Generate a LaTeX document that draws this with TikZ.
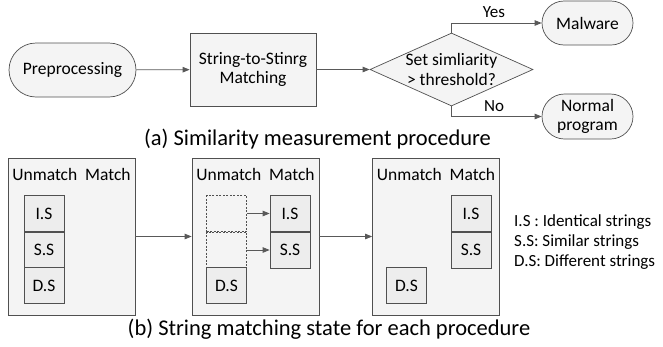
\documentclass[tikz,border=0pt]{standalone}
\usepackage{fontspec}
\setmainfont{Carlito}
\usetikzlibrary{arrows.meta,shapes.geometric,shapes.misc}
\definecolor{edge}{HTML}{505050}
\definecolor{wire}{HTML}{595959}
\definecolor{boxfill}{HTML}{F4F4F4}
\definecolor{cellfill}{HTML}{EDEDED}
\tikzset{
  body/.style={font=\fontsize{17.5}{19.5}\selectfont},
  base/.style={draw=edge, line width=0.7pt, inner sep=0pt, body, align=center},
  terminal/.style={base, rounded rectangle, fill=boxfill},
  process/.style={base, rectangle, fill=boxfill},
  decision/.style={base, diamond, fill=boxfill},
  stage/.style={base, rectangle, fill=boxfill, minimum width=127pt, minimum height=157pt},
  cell/.style={base, rectangle, fill=cellfill, minimum width=40pt, minimum height=36pt},
  ghost/.style={cell, dash pattern=on 2pt off 1.5pt, fill=boxfill},
  link/.style={draw=wire, line width=0.8pt, -{Triangle[length=7pt,width=5.5pt]}},
  caption/.style={font=\fontsize{22.5}{25}\selectfont, inner sep=0pt},
  tag/.style={font=\fontsize{17}{19}\selectfont, inner sep=0pt},
}
\begin{document}
\begin{tikzpicture}[x=1pt, y=-1pt]
\useasboundingbox (0,0) rectangle (663,346);

% (a) flow of the similarity measurement
\node[terminal, minimum width=127pt, minimum height=54pt] (pre) at (72.5,70) {Preprocessing};
\node[process, minimum width=126pt, minimum height=73pt] (smm) at (253,69.5) {String-to-Stinrg\\Matching};
\node[decision, minimum width=163pt, minimum height=73pt, aspect=2.23] (dec) at (451.5,69.5) {};
\node[body, align=center, inner sep=0pt] (dectxt) at (dec) {Set simliarity\\> threshold?};
\node[terminal, minimum width=91pt, minimum height=44pt] (mal) at (587.5,23) {Malware};
\node[terminal, minimum width=91pt, minimum height=45pt] (nor) at (587.5,116.5) {Normal\\program};

\draw[link] (pre) -- (smm);
\draw[link] (smm) -- (dec);
\draw[link] (dec.north) |- (mal.west);
\draw[link] (dec.south) |- (nor.west);
\node[tag] (yes) at (494,12) {Yes};
\node[tag] (no) at (494,106) {No};

\node[caption] (capa) at (317.5,139) {(a) Similarity measurement procedure};

% (b) matching states
\node[stage] (s1) at (71.5,236.5) {};
\node[stage] (s2) at (255.5,236.5) {};
\node[stage] (s3) at (436,236.5) {};
\foreach \s in {s1,s2,s3}
  \node[body, inner sep=0pt] (\s h) at ([yshift=-17pt]\s.north) {Unmatch\ \ Match};

% state 1: everything unmatched
\node[cell] (a1) at (44,213.5) {I.S};
\node[cell] (a2) at (44,250) {S.S};
\node[cell] (a3) at (44,285.5) {D.S};

% state 2: identical and similar strings move over
\node[ghost] (b1) at (226.5,213.5) {};
\node[ghost] (b2) at (226.5,250) {};
\node[cell] (b3) at (226.5,285.5) {D.S};
\node[cell] (c1) at (290,213.5) {I.S};
\node[cell] (c2) at (290,250) {S.S};
\draw[link] (b1) -- (c1);
\draw[link] (b2) -- (c2);

% state 3: only different strings stay unmatched
\node[cell] (d3) at (406.5,285.5) {D.S};
\node[cell] (e1) at (471,213.5) {I.S};
\node[cell] (e2) at (471,250) {S.S};

\draw[link] (s1) -- (s2);
\draw[link] (s2) -- (s3);

% legend
\node[tag, anchor=west] (l1) at (514,222) {I.S : Identical strings};
\node[tag, anchor=west] (l2) at (514,242) {S.S: Similar strings};
\node[tag, anchor=west] (l3) at (514,262) {D.S: Different strings};

\node[caption] (capb) at (329,329) {(b) String matching state for each procedure};
\end{tikzpicture}
\end{document}
